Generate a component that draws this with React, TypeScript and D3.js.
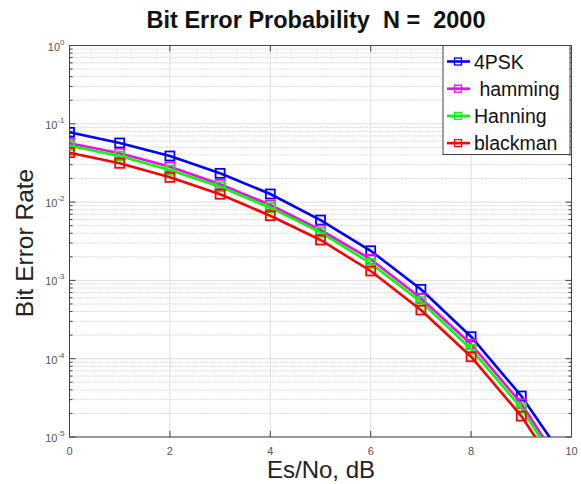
import React, { useEffect, useRef } from 'react';
import * as d3 from 'd3';

const esNo = [0, 1, 2, 3, 4, 5, 6, 7, 8, 9, 10];
const ber4psk = [0.0778, 0.0569, 0.0388, 0.0233, 0.0127, 0.0059, 0.00239, 0.000769, 0.000191, 3.34e-5, 3.9e-6];
const berHamming = [0.0564, 0.042, 0.0283, 0.0169, 0.00918, 0.0044, 0.00186, 0.00059, 0.000153, 2.68e-5, 2.7e-6];
const berHanning = [0.0525, 0.0388, 0.0257, 0.0157, 0.00848, 0.00411, 0.00165, 0.000535, 0.000132, 2.35e-5, 2.3e-6];
const berBlackman = [0.0428, 0.0313, 0.0207, 0.0126, 0.0067, 0.00328, 0.00132, 0.000419, 0.000106, 1.85e-5, 2.0e-6];

const seriesNames = ['4PSK', ' hamming', 'Hanning', 'blackman'];
const seriesColors = ['#0000ff', '#ff00ff', '#00ff00', '#ff0000'];
const xTicks = [0, 2, 4, 6, 8, 10];
const yDecades = [-5, -4, -3, -2, -1, 0];

function App() {
  const ref = useRef<SVGSVGElement>(null);

  useEffect(() => {
    const svg = d3.select(ref.current);
    svg.selectAll('*').remove();

    const left = 69.5, right = 571.5, top = 45.5, bottom = 437;
    const font = 'Liberation Sans, Arial, Helvetica, sans-serif';

    const x = d3.scaleLinear().domain([0, 10]).range([left, right]);
    const y = d3.scaleLog().domain([1e-5, 1]).range([bottom, top]);

    svg.append('rect').attr('width', 581).attr('height', 484).attr('fill', '#fff');

    // minor grid (dotted)
    const minors: number[] = [];
    for (let e = -5; e < 0; e++) {
      for (let m = 2; m <= 9; m++) minors.push(m * Math.pow(10, e));
    }
    const grid = svg.append('g');
    grid.selectAll('.minor')
      .data(minors)
      .enter().append('line')
      .attr('x1', left).attr('x2', right)
      .attr('y1', d => y(d)).attr('y2', d => y(d))
      .attr('stroke', '#cccccc')
      .attr('stroke-width', 0.8)
      .attr('stroke-dasharray', '1.5,1');

    grid.selectAll('.major')
      .data(yDecades)
      .enter().append('line')
      .attr('x1', left).attr('x2', right)
      .attr('y1', d => y(Math.pow(10, d))).attr('y2', d => y(Math.pow(10, d)))
      .attr('stroke', '#dedede')
      .attr('stroke-width', 1);

    grid.selectAll('.xgrid')
      .data(xTicks)
      .enter().append('line')
      .attr('x1', d => x(d)).attr('x2', d => x(d))
      .attr('y1', top).attr('y2', bottom)
      .attr('stroke', '#dedede')
      .attr('stroke-width', 1);

    // box + ticks
    const axis = svg.append('g').attr('stroke', '#444').attr('fill', 'none');
    axis.append('rect')
      .attr('x', left).attr('y', top)
      .attr('width', right - left).attr('height', bottom - top)
      .attr('stroke-width', 1);

    axis.selectAll('.ytk')
      .data(yDecades)
      .enter().append('path')
      .attr('d', d => {
        const yy = y(Math.pow(10, d));
        return `M${left},${yy}h6M${right},${yy}h-6`;
      });
    axis.selectAll('.ymt')
      .data(minors)
      .enter().append('path')
      .attr('d', d => {
        const yy = y(d);
        return `M${left},${yy}h3M${right},${yy}h-3`;
      });
    axis.selectAll('.xtk')
      .data(xTicks)
      .enter().append('path')
      .attr('d', d => `M${x(d)},${bottom}v-6M${x(d)},${top}v6`);

    // tick labels
    svg.append('g').selectAll('text')
      .data(xTicks)
      .enter().append('text')
      .attr('x', d => x(d))
      .attr('y', bottom + 18)
      .attr('text-anchor', 'middle')
      .attr('font-family', font)
      .attr('font-size', 11)
      .attr('fill', '#555')
      .text(d => d);

    const yl = svg.append('g').selectAll('text')
      .data(yDecades)
      .enter().append('text')
      .attr('x', left - 5)
      .attr('y', d => y(Math.pow(10, d)) + 5)
      .attr('text-anchor', 'end')
      .attr('font-family', font)
      .attr('font-size', 11)
      .attr('fill', '#555');
    yl.append('tspan').text('10');
    yl.append('tspan').attr('dy', -6).attr('font-size', 8).text(d => d);

    // series
    const allSeries = [ber4psk, berHamming, berHanning, berBlackman];
    svg.append('clipPath').attr('id', 'plotclip')
      .append('rect').attr('x', left).attr('y', top)
      .attr('width', right - left).attr('height', bottom - top);

    const line = d3.line<number>()
      .x((_, i) => x(esNo[i]))
      .y(d => y(d));

    const plot = svg.append('g').attr('clip-path', 'url(#plotclip)');
    allSeries.forEach((s, k) => {
      plot.append('path')
        .datum(s)
        .attr('d', line)
        .attr('fill', 'none')
        .attr('stroke', seriesColors[k])
        .attr('stroke-width', 2.6);
      plot.selectAll(`.mk${k}`)
        .data(s.filter(v => v >= 1e-5))
        .enter().append('rect')
        .attr('x', (_, i) => x(esNo[i]) - 4.5)
        .attr('y', d => y(d) - 4.5)
        .attr('width', 9).attr('height', 9)
        .attr('fill', 'none')
        .attr('stroke', seriesColors[k])
        .attr('stroke-width', 1.8);
    });

    // legend
    const lg = svg.append('g');
    lg.append('rect')
      .attr('x', 443).attr('y', top)
      .attr('width', 127).attr('height', 109)
      .attr('fill', '#fff')
      .attr('stroke', '#444')
      .attr('stroke-width', 1);
    seriesNames.forEach((name, k) => {
      const ly = 61.5 + k * 27.2;
      lg.append('line')
        .attr('x1', 447).attr('x2', 470)
        .attr('y1', ly).attr('y2', ly)
        .attr('stroke', seriesColors[k]).attr('stroke-width', 2.6);
      lg.append('rect')
        .attr('x', 454.5).attr('y', ly - 3.5)
        .attr('width', 7).attr('height', 7)
        .attr('fill', 'none')
        .attr('stroke', seriesColors[k]).attr('stroke-width', 1.3);
      lg.append('text')
        .attr('x', 474).attr('y', ly + 7)
        .attr('font-family', font)
        .attr('font-size', 19.5)
        .attr('fill', '#111')
        .attr('xml:space', 'preserve')
        .style('white-space', 'pre')
        .text(name);
    });

    // title and axis labels
    svg.append('text')
      .attr('x', 316).attr('y', 28)
      .attr('text-anchor', 'middle')
      .attr('font-family', font)
      .attr('font-weight', 'bold')
      .attr('font-size', 23.5)
      .attr('fill', '#111')
      .style('white-space', 'pre')
      .text('Bit Error Probability  N =  2000');

    svg.append('text')
      .attr('x', 321).attr('y', 478)
      .attr('text-anchor', 'middle')
      .attr('font-family', font)
      .attr('font-size', 24)
      .attr('fill', '#222')
      .text('Es/No, dB');

    svg.append('text')
      .attr('transform', 'translate(33,243) rotate(-90)')
      .attr('text-anchor', 'middle')
      .attr('font-family', font)
      .attr('font-size', 24.5)
      .attr('fill', '#222')
      .text('Bit Error Rate');
  }, []);

  return (
    <svg ref={ref} width={581} height={484} style={{ position: 'absolute', left: 0, top: 0 }} />
  );
}

export default App;
